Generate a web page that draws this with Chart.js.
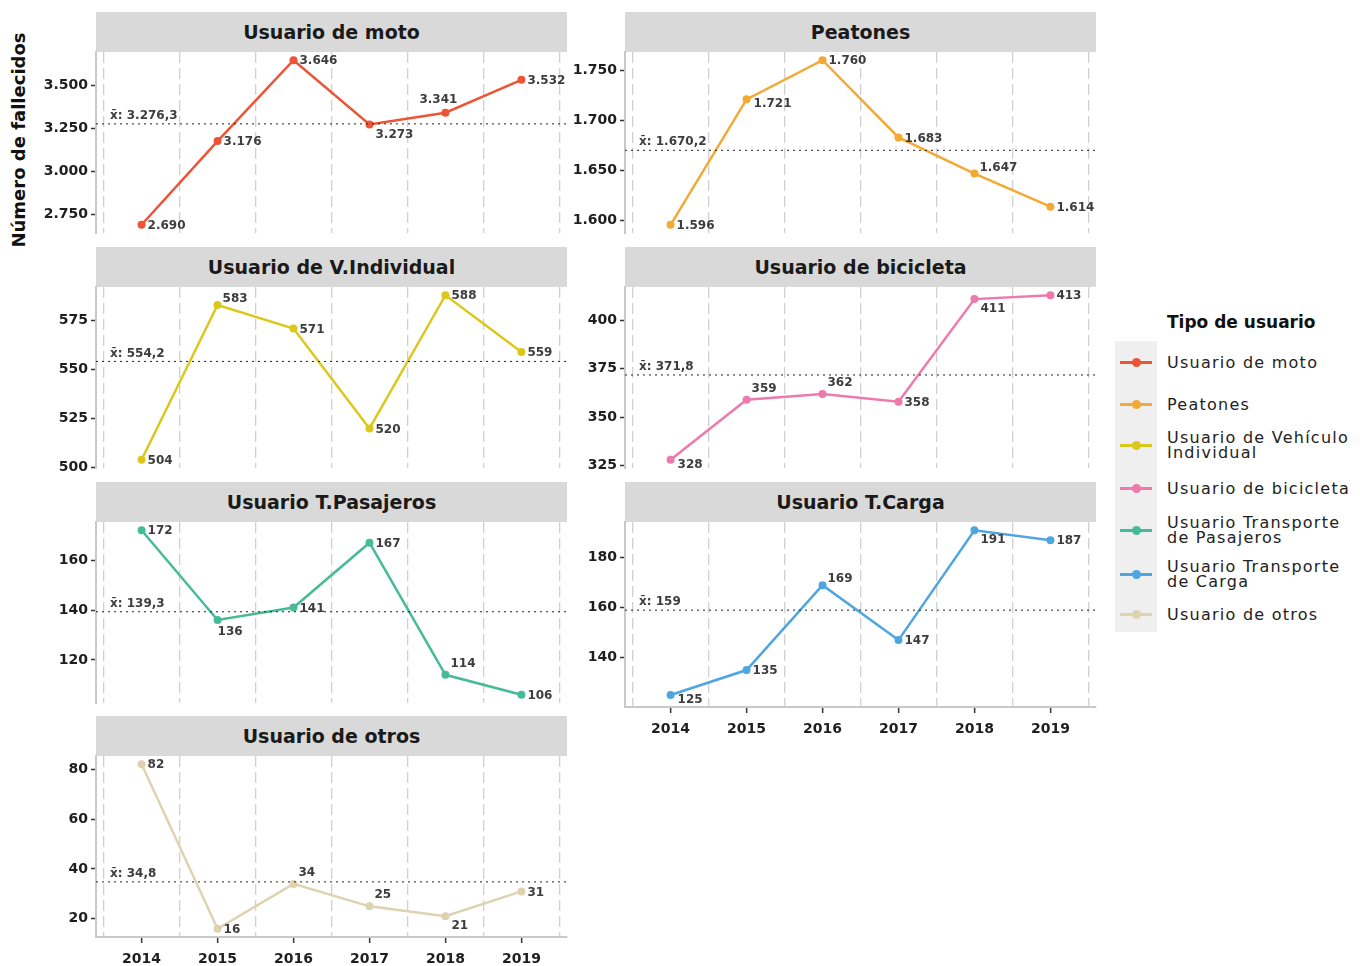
<!DOCTYPE html>
<html>
<head>
<meta charset="utf-8">
<script src="https://cdn.jsdelivr.net/npm/chart.js@4.4.0/dist/chart.umd.min.js"></script>
<style>
body { margin: 0; width: 1360px; height: 966px; background: #fff; position: relative; overflow: hidden; font-family: "DejaVu Sans", sans-serif; }
.strip { position: absolute; background: #d9d9d9; height: 40px; line-height: 40px; text-align: center; font-weight: bold; font-size: 19px; color: #1a1a1a; }
canvas { position: absolute; }
#ytitulo { position: absolute; left: 18px; top: 140px; transform: translate(-50%, -50%) rotate(-90deg); white-space: nowrap; font-weight: bold; font-size: 18px; color: #111; }
#leyenda { position: absolute; left: 1115px; top: 312px; }
#leyenda .titulo { position: absolute; left: 52px; top: 0; white-space: nowrap; font-weight: bold; font-size: 17px; color: #111; }
#leyenda .fondo { position: absolute; left: 0; top: 29px; width: 42px; height: 291px; background: #efefef; }
.item { position: absolute; left: 0; width: 250px; height: 40px; }
.item .linea { position: absolute; left: 5px; top: 19px; width: 32px; height: 3px; }
.item .punto { position: absolute; left: 17px; top: 16px; width: 9px; height: 9px; border-radius: 50%; }
.item .texto { position: absolute; left: 52px; top: 50%; transform: translateY(-50%); font-size: 16px; letter-spacing: 1.25px; line-height: 15px; color: #222; white-space: nowrap; }
</style>
</head>
<body>
<div id="ytitulo">Número de fallecidos</div>
<div id="leyenda"><div class="fondo"></div><div class="titulo">Tipo de usuario</div></div>
<script>
// datos de fallecidos por tipo de usuario
var anios = [2014, 2015, 2016, 2017, 2018, 2019];
var moto = [2690, 3176, 3646, 3273, 3341, 3532];
var peatones = [1596, 1721, 1760, 1683, 1647, 1614];
var vIndividual = [504, 583, 571, 520, 588, 559];
var bicicleta = [328, 359, 362, 358, 411, 413];
var tPasajeros = [172, 136, 141, 167, 114, 106];
var tCarga = [125, 135, 169, 147, 191, 187];
var otros = [82, 16, 34, 25, 21, 31];
var medias = [3276.3, 1670.2, 554.2, 371.8, 139.3, 159, 34.8];
var titulos = ["Usuario de moto", "Peatones", "Usuario de V.Individual", "Usuario de bicicleta", "Usuario T.Pasajeros", "Usuario T.Carga", "Usuario de otros"];
var nombresLeyenda = ["Usuario de moto", "Peatones", "Usuario de Vehículo<br>Individual", "Usuario de bicicleta", "Usuario Transporte<br>de Pasajeros", "Usuario Transporte<br>de Carga", "Usuario de otros"];
var pasos = [250, 50, 25, 25, 20, 20, 20];

var series = [moto, peatones, vIndividual, bicicleta, tPasajeros, tCarga, otros];
var colores = ['#ec5436', '#f3aa35', '#dcc81c', '#ee79ad', '#47bb97', '#4ea6e0', '#ddd3b0'];

// donde va cada etiqueta respecto al punto
var posEtiquetas = [
    ['r', 'r', 'r', 'br', 'a', 'r'],
    ['r', 'rb', 'r', 'r', 'ra', 'r'],
    ['r', 'ra', 'r', 'r', 'r', 'r'],
    ['rb', 'ar', 'ar', 'r', 'br', 'r'],
    ['r', 'b', 'r', 'r', 'ar', 'r'],
    ['rb', 'r', 'ra', 'r', 'br', 'r'],
    ['r', 'r', 'ar', 'ar', 'br', 'r']
];
var desplaz = { r: [6, 1], rb: [7, 5], ra: [5, -6], br: [6, 10], ar: [5, -11], a: [-26, -13], b: [0, 12] };

var colIzq = [96, 625];
var filaTop = [52, 287, 522, 756];
var anchoPanel = 471;
var anchoEjeY = 66;

function fmt(v) { // formato 3.276,3
    var partes = (Number.isInteger(v) ? String(v) : v.toFixed(1)).split('.');
    var ent = partes[0].replace(/\B(?=(\d{3})+(?!\d))/g, '.');
    return partes.length > 1 ? ent + ',' + partes[1] : ent;
}

function panel(i, abajo) {
    var col = i % 2, fila = Math.floor(i / 2);
    var left = colIzq[col], top = filaTop[fila];
    var altoPanel = i == 5 ? 185 : 181; // el de carga baja un poco mas

    var strip = document.createElement('div');
    strip.className = 'strip';
    strip.style.left = left + 'px';
    strip.style.top = (top - 40) + 'px';
    strip.style.width = anchoPanel + 'px';
    strip.textContent = titulos[i];
    document.body.appendChild(strip);

    var altoEjeX = abajo ? 32 : 0;
    var cv = document.createElement('canvas');
    cv.width = anchoEjeY + anchoPanel + 4;
    cv.height = 10 + altoPanel + altoEjeX + 4;
    cv.style.left = (left - anchoEjeY) + 'px';
    cv.style.top = (top - 10) + 'px';
    document.body.appendChild(cv);

    var vals = series[i];
    var lo = Math.min.apply(null, vals), hi = Math.max.apply(null, vals);
    var ext = (hi - lo) * 0.05;
    var minY = i == 5 ? 120.2 : lo - ext;
    var paso = pasos[i];

    var etiquetas = {
        id: 'etiquetas' + i,
        afterDatasetsDraw: function (chart) {
            var ctx = chart.ctx;
            ctx.save();
            ctx.font = 'bold 12px "DejaVu Sans"';
            ctx.fillStyle = '#3d3d3d';
            ctx.textBaseline = 'middle';
            ctx.textAlign = 'left';
            chart.getDatasetMeta(1).data.forEach(function (pt, k) {
                var d = desplaz[posEtiquetas[i][k]];
                ctx.fillText(fmt(vals[k]), pt.x + d[0], pt.y + d[1]);
            });
            var yM = chart.scales.y.getPixelForValue(medias[i]);
            ctx.fillText('x\u0304: ' + fmt(medias[i]), chart.chartArea.left + 14, yM - 8);
            ctx.restore();
        }
    };

    new Chart(cv, {
        type: 'line',
        data: {
            datasets: [{
                data: [{ x: 2013.4, y: medias[i] }, { x: 2019.6, y: medias[i] }],
                borderColor: '#222',
                borderWidth: 1,
                borderDash: [2, 4],
                pointRadius: 0
            }, {
                data: anios.map(function (a, k) { return { x: a, y: vals[k] }; }),
                borderColor: colores[i],
                backgroundColor: colores[i],
                borderWidth: 2.5,
                pointRadius: 4,
                pointBorderWidth: 0,
                tension: 0
            }]
        },
        options: {
            responsive: false,
            devicePixelRatio: 1,
            animation: false,
            layout: { padding: { top: 10, bottom: 4, left: 0, right: 4 } },
            plugins: { legend: { display: false }, tooltip: { enabled: false } },
            scales: {
                x: {
                    type: 'linear',
                    min: 2013.4,
                    max: 2019.6,
                    afterBuildTicks: function (s) {
                        var t = [];
                        for (var v = 2013.5; v <= 2019.5; v += 0.5) t.push({ value: v });
                        s.ticks = t;
                    },
                    afterFit: function (s) { s.height = altoEjeX; s.paddingLeft = 0; s.paddingRight = 0; },
                    ticks: {
                        display: abajo,
                        autoSkip: false,
                        maxRotation: 0,
                        padding: 8,
                        color: '#1e1e1e',
                        font: { family: 'DejaVu Sans', size: 14, weight: 'bold' },
                        callback: function (v) { return Number.isInteger(v) ? String(v) : ''; }
                    },
                    grid: {
                        drawTicks: abajo,
                        tickLength: 6,
                        tickWidth: 1.5,
                        lineWidth: 1.3,
                        color: function (c) { return c.tick && Number.isInteger(c.tick.value) ? 'rgba(0,0,0,0)' : '#d0d0d0'; },
                        tickColor: function (c) { return c.tick && Number.isInteger(c.tick.value) ? '#333' : 'rgba(0,0,0,0)'; }
                    },
                    border: { display: abajo, color: '#c8c8c8', width: 2, dash: [11, 5] }
                },
                y: {
                    min: minY,
                    max: hi + ext,
                    afterBuildTicks: function (s) {
                        var t = [];
                        for (var v = Math.ceil(s.min / paso) * paso; v <= s.max; v += paso) t.push({ value: v });
                        s.ticks = t;
                    },
                    afterFit: function (s) { s.width = anchoEjeY; s.paddingTop = 0; s.paddingBottom = 0; },
                    ticks: {
                        padding: 3,
                        color: '#1e1e1e',
                        font: { family: 'DejaVu Sans', size: 14, weight: 'bold' },
                        callback: function (v) { return fmt(v); }
                    },
                    grid: { drawOnChartArea: false, drawTicks: true, tickLength: 5, tickWidth: 1.5, tickColor: '#333' },
                    border: { display: true, color: '#c8c8c8', width: 2 }
                }
            }
        },
        plugins: [etiquetas]
    });
}

for (var i = 0; i < 7; i++) {
    panel(i, i >= 5);
}

// leyenda
var ley = document.getElementById('leyenda');
var centros = [50, 92, 133, 176, 218, 262, 302];
nombresLeyenda.forEach(function (n, k) {
    var it = document.createElement('div');
    it.className = 'item';
    it.style.top = (centros[k] - 20) + 'px';
    it.innerHTML = '<div class="linea" style="background:' + colores[k] + '"></div>' +
        '<div class="punto" style="background:' + colores[k] + '"></div>' +
        '<div class="texto">' + n + '</div>';
    ley.appendChild(it);
});
</script>
</body>
</html>
